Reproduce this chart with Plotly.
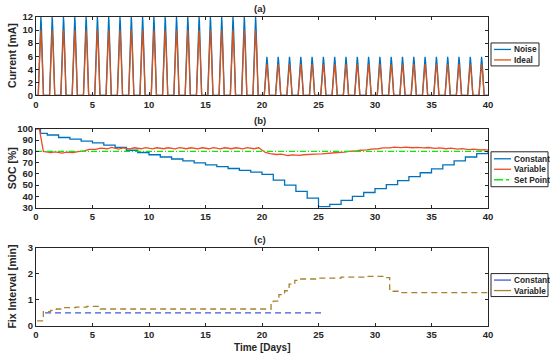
import plotly.graph_objects as go

# ---------------- data ----------------
# (a) current pulses, one per day
day_index = list(range(40))
pulse_center = 0.43           # pulse centre within each day [days]
ideal_offsets = [-0.23, -0.15, -0.08, 0.0, 0.08, 0.15, 0.23]
ideal_shape = [0.0, 0.4, 0.75, 1.0, 0.75, 0.4, 0.0]
ideal_peak = [10, 10, 10, 10, 10, 10, 10, 10, 10, 10,
              10, 10, 10, 10, 10, 10, 10, 10, 10, 10,
              4.8, 4.8, 4.8, 4.8, 4.8, 4.8, 4.8, 4.8, 4.8, 4.8,
              4.8, 4.8, 4.8, 4.8, 4.8, 4.8, 4.8, 4.8, 4.8, 4.8]
noise_offsets = [-0.23, -0.15, -0.10, -0.06, -0.03, 0.0, 0.03, 0.06, 0.10, 0.15, 0.23]
noise_high = [0, 4.0, 6.6, 9.8, 11.4, 12.0, 11.3, 9.8, 6.6, 4.0, 0]
noise_low = [0, 1.9, 3.2, 4.8, 5.5, 5.9, 5.5, 4.8, 3.2, 1.9, 0]
noise_level = ["high"] * 20 + ["low"] * 20

# (b) SOC
const_t = [0, 0.4, 1, 2, 3, 4, 5, 6, 7, 8, 9, 10, 11, 12, 13, 14, 15, 16, 17, 18, 19,
           20, 21, 22, 23, 24, 25, 26, 27, 28, 29, 30, 31, 32, 33, 34, 35, 36, 37, 38, 39, 40]
const_soc = [100, 96, 94.5, 92.3, 90.8, 89, 87.5, 85.5, 83.5, 81, 79, 77, 75, 73.2, 71.5,
             69.8, 68, 66.4, 64.8, 63.2, 61.5, 59.5, 54.5, 50, 44.5, 38.5, 31, 33, 36.5,
             40, 43.5, 47, 50.5, 54, 57.5, 61, 64.5, 68, 71.5, 75, 78, 81]
var_t = [0, 0.3, 0.65, 1.3, 1.7, 2.3, 2.7, 3.3, 3.7, 4.3, 4.7, 5.3, 5.7, 6.3, 6.7,
         7.3, 7.7, 8.3, 8.7, 9.3, 9.7, 10.3, 10.7, 11.3, 11.7, 12.3, 12.7, 13.3, 13.7,
         14.3, 14.7, 15.3, 15.7, 16.3, 16.7, 17.3, 17.7, 18.3, 18.7, 19.3, 19.7, 20.3,
         20.7, 21.3, 21.7, 22.3, 22.7, 23.3, 23.7, 24.3, 24.7, 25.3, 25.7, 26.3, 26.7,
         27.3, 27.7, 28.3, 28.7, 29.3, 29.7, 30.3, 30.7, 31.3, 31.7, 32.3, 32.7, 33.3,
         33.7, 34.3, 34.7, 35.3, 35.7, 36.3, 36.7, 37.3, 37.7, 38.3, 38.7, 39.3, 39.7, 40]
var_soc = [100, 100, 80, 78.8, 79.6, 78.5, 79.3, 79, 79.8, 80.5, 81.8, 81.8, 82.8, 82.3,
           83.5, 82, 83, 82.2, 83.2, 82.3, 83.3, 82.2, 83.2, 82.3, 83.2, 82.2, 83.3, 82.3,
           83.2, 82.2, 83.2, 82.3, 83.3, 82.2, 83.2, 82.3, 83.2, 82.2, 83.3, 82.3, 83.2,
           79, 78, 77.2, 77.6, 76.3, 76.8, 76.5, 77, 77, 77.6, 77.7, 78.2, 78.3, 79, 79.3,
           80, 80.3, 81, 81.3, 82, 82.3, 83, 83, 83.7, 83.3, 83.8, 83.2, 83.6, 83, 83.4,
           82.7, 83.1, 82.3, 82.8, 82, 82.4, 81.6, 82, 81.2, 81.6, 81]
set_point = 80

# (c) fix interval
const_fix_t = [0.8, 25.5]
const_fix = [0.5, 0.5]
var_fix_t = [0.1, 0.65, 1.3, 1.8, 2.3, 3.5, 4.5, 5.5, 5.7, 20.8, 21.0, 21.5, 22.0,
             22.4, 22.9, 23.3, 25, 27, 29, 30.8, 31.3, 31.6, 32.3, 40]
var_fix = [0.2, 0.55, 0.6, 0.65, 0.7, 0.72, 0.75, 0.7, 0.65, 0.85, 0.95, 1.2, 1.35,
           1.6, 1.75, 1.8, 1.83, 1.87, 1.9, 1.85, 1.4, 1.33, 1.28, 1.28]

x_ticks = [0, 5, 10, 15, 20, 25, 30, 35, 40]

# ---------------- colours ----------------
BLUE = "#0072BD"
ORANGE = "#D95319"
RED = "#F04A28"
GREEN = "#00EE00"
CBLUE = "#3F5BD8"
GOLD = "#A8822E"
AX = "#262626"

# ---------------- build pulse series ----------------
ax_x, ax_ideal = [0.0], [0.0]
for d in day_index:
    for o, s in zip(ideal_offsets, ideal_shape):
        ax_x.append(d + pulse_center + o)
        ax_ideal.append(ideal_peak[d] * s)
ax_x.append(40.0); ax_ideal.append(0.0)

nx, ny = [0.0], [0.0]
for d in day_index:
    tmpl = noise_high if noise_level[d] == "high" else noise_low
    for o, v in zip(noise_offsets, tmpl):
        nx.append(d + pulse_center + o)
        ny.append(v)
nx.append(40.0); ny.append(0.0)

fig = go.Figure()
fig.add_trace(go.Scatter(x=nx, y=ny, mode="lines", name="Noise",
                         line=dict(color=BLUE, width=1.3), xaxis="x", yaxis="y", showlegend=False))
fig.add_trace(go.Scatter(x=ax_x, y=ax_ideal, mode="lines", name="Ideal",
                         line=dict(color=ORANGE, width=1.3), xaxis="x", yaxis="y", showlegend=False))

fig.add_trace(go.Scatter(x=const_t, y=const_soc, mode="lines", name="Constant",
                         line=dict(color=BLUE, width=1.3, shape="hv"), xaxis="x2", yaxis="y2", showlegend=False))
fig.add_trace(go.Scatter(x=var_t, y=var_soc, mode="lines", name="Variable",
                         line=dict(color=RED, width=1.3), xaxis="x2", yaxis="y2", showlegend=False))
fig.add_trace(go.Scatter(x=[0, 40], y=[set_point, set_point], mode="lines", name="Set Point",
                         line=dict(color=GREEN, width=1.3, dash="6px,2px,1px,2px"), xaxis="x2", yaxis="y2", showlegend=False))

fig.add_trace(go.Scatter(x=const_fix_t, y=const_fix, mode="lines", name="Constant",
                         line=dict(color=CBLUE, width=1.3, dash="6px,4px"), xaxis="x3", yaxis="y3", showlegend=False))
fig.add_trace(go.Scatter(x=var_fix_t, y=var_fix, mode="lines", name="Variable",
                         line=dict(color=GOLD, width=1.3, dash="6px,4px", shape="hv"), xaxis="x3", yaxis="y3", showlegend=False))

# ---------------- layout ----------------
L, R, T, B = 36, 488, 17, 326.5
W, H = 550, 359
PW, PH = R - L, B - T

def px(xp):
    return (xp - L) / PW

def py(yp):
    return (B - yp) / PH

FONT = "Liberation Sans"
tickfont = dict(family=FONT, size=9.5, color=AX, weight="bold")

def xax(anchor):
    return dict(domain=[0, 1], anchor=anchor, range=[0, 40], tickvals=x_ticks,
                ticks="inside", ticklen=3, tickcolor=AX, showline=True, linecolor=AX,
                linewidth=1, mirror="ticks", showgrid=False, zeroline=False,
                tickfont=tickfont, automargin=False)

def yax(domain, rng, tickvals):
    return dict(domain=domain, range=rng, tickvals=tickvals, ticks="inside", ticklen=3,
                tickcolor=AX, showline=True, linecolor=AX, linewidth=1, mirror="ticks",
                showgrid=False, zeroline=False, tickfont=tickfont, automargin=False)

dom_a = [py(95.5), 1.0]
dom_b = [py(208), py(129)]
dom_c = [0.0, py(248)]

fig.update_layout(
    width=W, height=H,
    margin=dict(l=L, r=W - R, t=T, b=H - B, autoexpand=False),
    paper_bgcolor="white", plot_bgcolor="white",
    font=dict(family=FONT, size=9.5, color=AX),
    showlegend=False,
    xaxis=xax("y"), xaxis2=xax("y2"), xaxis3=xax("y3"),
    yaxis=yax(dom_a, [0, 12], [0, 2, 4, 6, 8, 10, 12]),
    yaxis2=yax(dom_b, [30, 100], [30, 40, 50, 60, 70, 80, 90, 100]),
    yaxis3=yax(dom_c, [0, 3], [0, 1, 2, 3]),
)

annots = []
shapes = []
cx = px(260)
for txt, yp in [("(a)", 8), ("(b)", 121), ("(c)", 240)]:
    annots.append(dict(text="<b>%s</b>" % txt, x=cx, y=py(yp), xref="paper", yref="paper",
                       showarrow=False, font=dict(family=FONT, size=9.5, color=AX),
                       xanchor="center", yanchor="middle"))
for txt, yp in [("Current [mA]", 56), ("SOC [%]", 168.5), ("Fix Interval [min]", 287)]:
    annots.append(dict(text="<b>%s</b>" % txt, x=px(12), y=py(yp), xref="paper", yref="paper",
                       showarrow=False, textangle=-90, font=dict(family=FONT, size=10.5, color=AX),
                       xanchor="center", yanchor="middle"))
annots.append(dict(text="<b>Time [Days]</b>", x=px(262), y=py(348), xref="paper", yref="paper",
                   showarrow=False, font=dict(family=FONT, size=10, color=AX),
                   xanchor="center", yanchor="middle"))

# manual legends
def legend(x0, x1, y0, y1, items):
    shapes.append(dict(type="rect", xref="paper", yref="paper", x0=px(x0), x1=px(x1),
                       y0=py(y1), y1=py(y0), line=dict(color=AX, width=1), fillcolor="white",
                       layer="above"))
    for name, color, dash, yp in items:
        shapes.append(dict(type="line", xref="paper", yref="paper", x0=px(x0 + 3), x1=px(x0 + 20),
                           y0=py(yp), y1=py(yp), line=dict(color=color, width=1.3, dash=dash),
                           layer="above"))
        annots.append(dict(text="<b>%s</b>" % name, x=px(x0 + 20.5), y=py(yp), xref="paper",
                           yref="paper", showarrow=False, xanchor="left", yanchor="middle",
                           font=dict(family=FONT, size=8.3, color=AX)))

legend(491, 539, 43, 66, [("Noise", BLUE, "solid", 49.5), ("Ideal", ORANGE, "solid", 60)])
legend(491, 548, 152, 187, [("Constant", BLUE, "solid", 159), ("Variable", RED, "solid", 169.5),
                            ("Set Point", GREEN, "dashdot", 180)])
legend(491, 548, 274, 297, [("Constant", CBLUE, "solid", 280.5), ("Variable", GOLD, "solid", 291)])

fig.update_layout(annotations=annots, shapes=shapes)
fig.write_html("out.html", config={"displayModeBar": False},
               post_script="document.body.style.margin='0px';")
